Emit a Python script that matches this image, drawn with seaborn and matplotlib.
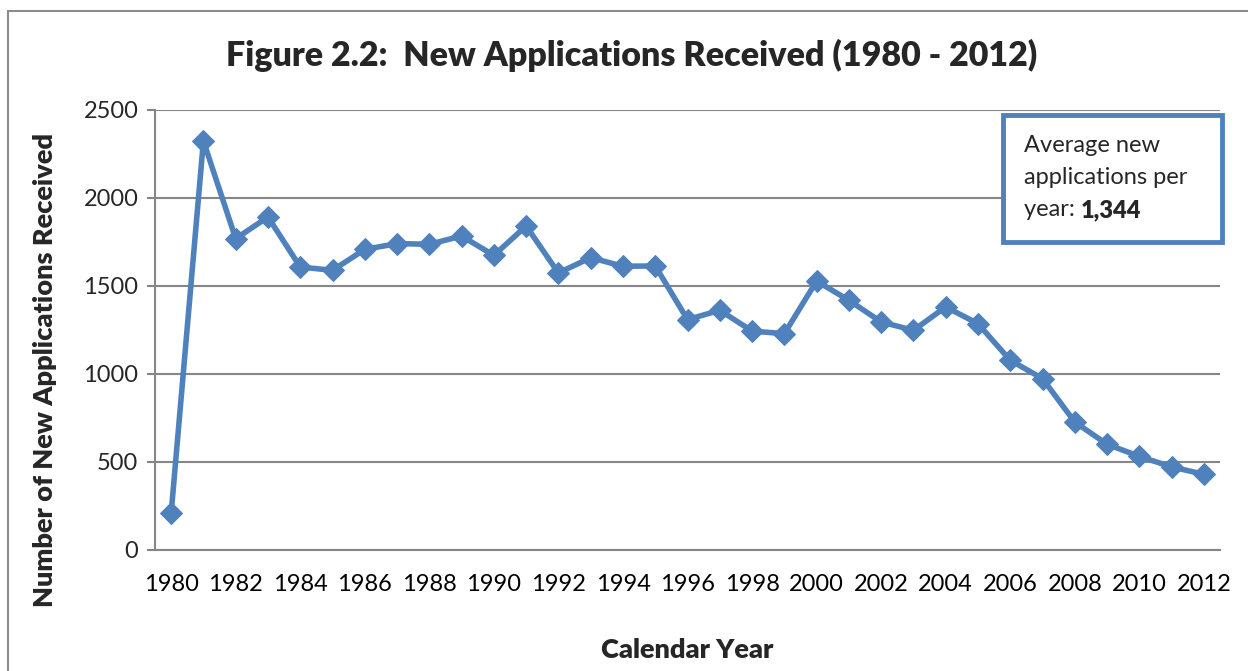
import matplotlib
matplotlib.use("Agg")
import matplotlib.pyplot as plt
from matplotlib.patches import Rectangle
import numpy as np
import pandas as pd
import seaborn as sns

# values
years = list(range(1980, 2013))
new_apps = [208, 2324, 1769, 1892, 1608, 1589, 1708, 1741, 1737, 1784, 1674, 1841,
            1574, 1661, 1612, 1614, 1309, 1362, 1244, 1229, 1528, 1419, 1296, 1248,
            1381, 1286, 1078, 974, 727, 601, 532, 472, 430]
y_ticks = [0, 500, 1000, 1500, 2000, 2500]
label_years = list(range(1980, 2013, 2))

BLUE = '#4F81BD'
GRID = '#868686'

sns.set_theme(style='white')
plt.rcParams['font.family'] = ['Lato', 'DejaVu Sans']

df = pd.DataFrame({'year': years, 'apps': new_apps})

fig = plt.figure(figsize=(12.48, 6.71), dpi=100)
ax = fig.add_axes([155 / 1248, 1 - 550 / 671, (1220 - 155) / 1248, (550 - 110) / 671])

# outer chart frame (top and left edges visible)
fig.patches.append(Rectangle((8 / 1248, -0.1), 1.2, 1 - 11 / 671 + 0.1,
                             transform=fig.transFigure, fill=False,
                             edgecolor='#8c8c8c', linewidth=1.5))

sns.lineplot(data=df, x='year', y='apps', ax=ax, color=BLUE, linewidth=4,
             marker='D', markersize=11, markeredgecolor=BLUE, zorder=3)

ax.set_xlim(1979.5, 2012.5)
ax.set_ylim(0, 2500)
ax.set_yticks(y_ticks)
ax.set_xticks(label_years)
ax.set_xticks(np.arange(1979.5, 2013, 1), minor=True)
ax.tick_params(axis='x', which='major', length=0, pad=17, labelsize=17, colors='black')
ax.tick_params(axis='x', which='minor', length=6, width=1.5, color=GRID, direction='out')
ax.tick_params(axis='y', length=6, width=1.5, color=GRID, direction='out',
               labelsize=17, pad=6, left=True)
ax.grid(axis='y', color=GRID, linewidth=1.5)
ax.grid(axis='x', visible=False)
for side in ['top', 'right']:
    ax.spines[side].set_visible(False)
for side in ['left', 'bottom']:
    ax.spines[side].set_color(GRID)
    ax.spines[side].set_linewidth(1.5)

ax.set_xlabel('Calendar Year', fontsize=19.5, fontweight='heavy', labelpad=31)
ax.set_ylabel('Number of New Applications Received', fontsize=19.5,
              fontweight='heavy')
ax.yaxis.set_label_coords(-0.092, 0.409)
fig.text(632 / 1248, 1 - 55 / 671, 'Figure 2.2:  New Applications Received (1980 - 2012)',
         ha='center', va='center', fontsize=24.5, fontweight='heavy')

# annotation box
ax.add_patch(Rectangle((1003 / 1248, 1 - 242 / 671), (1222 - 1003) / 1248, (242 - 115) / 671,
                       transform=fig.transFigure, fill=True, facecolor='white',
                       edgecolor=BLUE, linewidth=3.5, zorder=5, clip_on=False))
fig.text(1024 / 1248, 1 - 145 / 671, 'Average new', fontsize=17, va='center', zorder=6)
fig.text(1024 / 1248, 1 - 178 / 671, 'applications per', fontsize=17, va='center', zorder=6)
t = fig.text(1024 / 1248, 1 - 210 / 671, 'year: ', fontsize=17, va='center', zorder=6)
fig.canvas.draw()
bb = t.get_window_extent()
fig.text(bb.x1 / 1248, 1 - 210 / 671, '1,344', fontsize=17, fontweight='heavy',
         va='center', zorder=6)

fig.savefig('out.png', dpi=100)
